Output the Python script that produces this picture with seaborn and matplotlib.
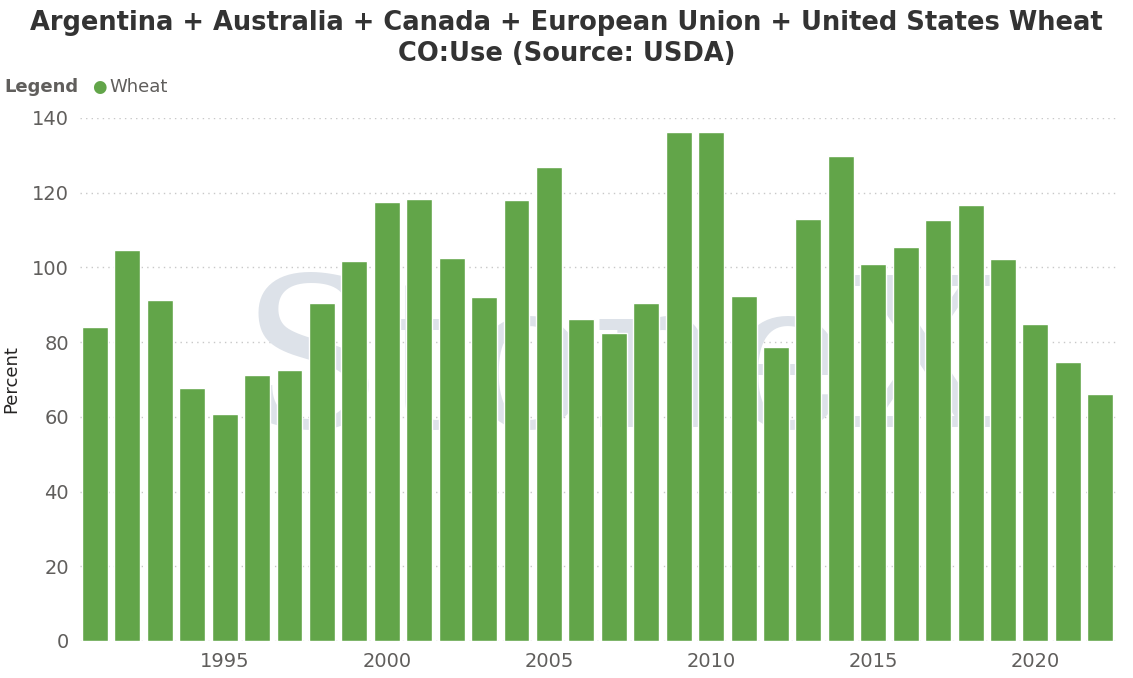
import matplotlib
matplotlib.use("Agg")
import matplotlib.pyplot as plt
import seaborn as sns
import pandas as pd

years = list(range(1991, 2023))
wheat = [84.0, 104.7, 91.3, 67.7, 60.8, 71.2, 72.5, 90.5, 101.7, 117.5,
         118.3, 102.5, 92.1, 118.0, 126.9, 86.2, 82.4, 90.5, 136.2, 136.2,
         92.3, 78.7, 113.0, 129.8, 100.9, 105.5, 112.7, 116.7, 102.2, 84.8,
         74.7, 66.1]
y_ticks = [0, 20, 40, 60, 80, 100, 120, 140]
x_ticks = [1995, 2000, 2005, 2010, 2015, 2020]

df = pd.DataFrame({"Year": years, "Wheat": wheat})

sns.set_style("white")
plt.rcParams['font.family'] = ['DejaVu Sans']

fig = plt.figure(figsize=(11.33, 6.78), dpi=100)
ax = fig.add_axes([0.0706, 0.0546, 0.9154, 0.7714])

sns.barplot(data=df, x="Year", y="Wheat", native_scale=True, width=0.8,
            color="#62A549", saturation=1, ax=ax, zorder=3)

# faint watermark
ax.text(0.52, 0.52, "StoneX", transform=ax.transAxes, ha="center", va="center",
        fontsize=150, family="DejaVu Serif", color="#dde2e9", zorder=1)

ax.set_xlim(1990.54, 2022.52)
ax.set_ylim(0, 140)
ax.set_yticks(y_ticks)
ax.set_xticks(x_ticks)
ax.set_xlabel("")
ax.set_ylabel("Percent", fontsize=13, color="#252423")
ax.yaxis.set_label_coords(-0.058, 0.5)
ax.tick_params(axis="both", labelsize=14, colors="#605E5C", length=0, pad=8)
ax.grid(axis="y", linestyle=(0, (1, 3)), color="#c8c8c8", linewidth=1, zorder=0)
for s in ax.spines.values():
    s.set_visible(False)

fig.text(0.5, 0.985, "Argentina + Australia + Canada + European Union + United States Wheat\nCO:Use (Source: USDA)",
         ha="center", va="top", fontsize=18.5, fontweight="bold", color="#333333",
         linespacing=1.25)

fig.text(0.004, 0.871, "Legend", fontsize=13, fontweight="bold", color="#605E5C", va="center")
fig.text(0.081, 0.871, "\u25CF", fontsize=12, color="#62A549", va="center")
fig.text(0.097, 0.871, "Wheat", fontsize=13, color="#605E5C", va="center")

fig.savefig("out.png", dpi=100)
